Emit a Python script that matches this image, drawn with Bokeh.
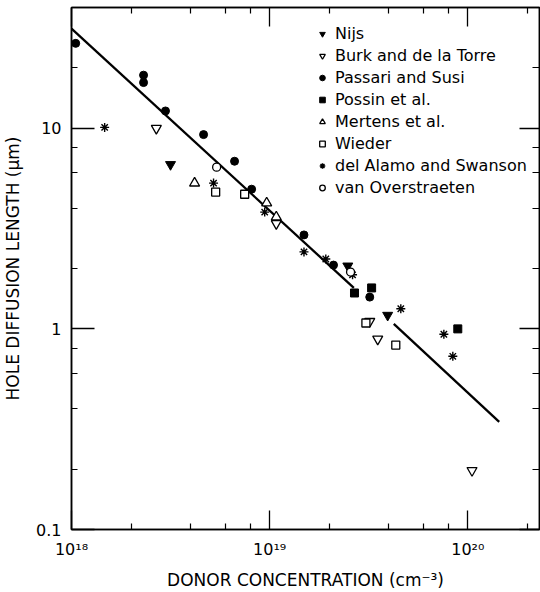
from bokeh.plotting import figure
from bokeh.models import (Range1d, FixedTicker, LogAxis, CustomJSTickFormatter,
                          Legend, LegendItem)
from bokeh.embed import file_html
from bokeh.resources import INLINE

# ---------------- data ----------------
nijs_x = [3.16e18, 2.48e19, 3.94e19]
nijs_y = [6.6, 2.06, 1.17]

burk_x = [2.68e18, 1.08e19, 3.2e19, 3.51e19, 1.05e20]
burk_y = [10.0, 3.35, 1.09, 0.89, 0.197]

passari_x = [1.05e18, 2.31e18, 2.31e18, 2.98e18, 4.64e18, 6.65e18, 8.11e18,
             1.49e19, 2.10e19, 3.20e19]
passari_y = [26.5, 18.4, 16.9, 12.2, 9.3, 6.85, 4.97, 2.94, 2.08, 1.44]

possin_x = [2.68e19, 3.27e19, 8.9e19]
possin_y = [1.51, 1.60, 1.0]

mertens_x = [4.18e18, 9.66e18, 1.08e19]
mertens_y = [5.33, 4.24, 3.61]

wieder_x = [5.34e18, 7.48e18, 3.06e19, 4.33e19]
wieder_y = [4.81, 4.69, 1.07, 0.83]

alamo_x = [1.47e18, 5.21e18, 9.44e18, 1.49e19, 1.92e19, 2.62e19, 4.59e19,
           7.57e19, 8.4e19]
alamo_y = [10.1, 5.33, 3.82, 2.42, 2.23, 1.86, 1.26, 0.94, 0.73]

overstraeten_x = [5.40e18, 2.56e19]
overstraeten_y = [6.40, 1.92]

fit_a_x = [1.0e18, 2.66e19]
fit_a_y = [31.4, 1.6]
fit_b_x = [4.23e19, 1.44e20]
fit_b_y = [1.06, 0.344]

series_names = ["Nijs", "Burk and de la Torre", "Passari and Susi", "Possin et al.",
                "Mertens et al.", "Wieder", "del Alamo and Swanson", "van Overstraeten"]

x_tick_values = [1e18, 1e19, 1e20]
x_tick_labels = ["10\u00b9\u2078", "10\u00b9\u2079", "10\u00b2\u2070"]
x_minor_values = [2e18, 4e18, 6e18, 8e18, 2e19, 4e19, 6e19, 8e19, 2e20]
y_tick_values = [0.1, 1, 10]
y_tick_labels = ["0.1", "1", "10"]
y_minor_values = [0.2, 0.4, 0.6, 0.8, 2, 4, 6, 8, 20, 40]

x_title = "DONOR CONCENTRATION (cm\u207b\u00b3)"
y_title = "HOLE DIFFUSION LENGTH (\u00b5m)"

# ---------------- figure ----------------
FONT = "DejaVu Sans"
p = figure(width=540, height=592, x_axis_type="log", y_axis_type="log",
           x_range=Range1d(1e18, 2.3e20), y_range=Range1d(0.1, 40),
           output_backend="svg", toolbar_location=None,
           min_border_left=71, min_border_right=1, min_border_top=7,
           min_border_bottom=61)
p.xgrid.visible = False
p.ygrid.visible = False
p.outline_line_color = "black"
p.outline_line_width = 1.5
p.background_fill_color = "white"
p.border_fill_color = "white"

fmt_code = """
const i = vals.findIndex(v => Math.abs(Math.log10(v) - Math.log10(tick)) < 1e-6);
return i >= 0 ? labs[i] : "";
"""
xfmt = CustomJSTickFormatter(args=dict(vals=x_tick_values, labs=x_tick_labels), code=fmt_code)
yfmt = CustomJSTickFormatter(args=dict(vals=y_tick_values, labs=y_tick_labels), code=fmt_code)
xticker = FixedTicker(ticks=x_tick_values, minor_ticks=x_minor_values)
yticker = FixedTicker(ticks=y_tick_values, minor_ticks=y_minor_values)

def style(ax, ticker, major_in, minor_in):
    ax.ticker = ticker
    ax.major_tick_in = major_in
    ax.major_tick_out = 0
    ax.minor_tick_in = minor_in
    ax.minor_tick_out = 0
    ax.major_tick_line_color = "black"
    ax.minor_tick_line_color = "black"
    ax.major_tick_line_width = 1.3
    ax.minor_tick_line_width = 1.2
    ax.axis_line_color = "black"
    ax.axis_line_width = 1.5

xa = p.xaxis[0]
style(xa, xticker, 19, 6)
xa.formatter = xfmt
xa.major_label_text_font = FONT
xa.major_label_text_font_size = "16px"
xa.major_label_text_color = "black"
xa.major_label_standoff = 10
xa.axis_label = x_title
xa.axis_label_text_font = FONT
xa.axis_label_text_font_size = "17px"
xa.axis_label_text_font_style = "normal"
xa.axis_label_text_color = "black"
xa.axis_label_standoff = 8

ya = p.yaxis[0]
style(ya, yticker, 23, 6)
ya.formatter = yfmt
ya.major_label_text_font = FONT
ya.major_label_text_font_size = "16px"
ya.major_label_text_color = "black"
ya.major_label_standoff = 10
ya.axis_label = y_title
ya.axis_label_text_font = FONT
ya.axis_label_text_font_size = "17px"
ya.axis_label_text_font_style = "normal"
ya.axis_label_text_color = "black"
ya.axis_label_standoff = 10

empty = CustomJSTickFormatter(code="return '';")
top = LogAxis(formatter=empty)
style(top, FixedTicker(ticks=x_tick_values, minor_ticks=x_minor_values), 19, 6)
top.major_label_text_font_size = "0px"
top.major_label_standoff = 0
p.add_layout(top, "above")
right = LogAxis(formatter=CustomJSTickFormatter(code="return '';"))
style(right, FixedTicker(ticks=y_tick_values, minor_ticks=y_minor_values), 20, 7)
right.major_label_text_font_size = "0px"
right.major_label_standoff = 0
p.add_layout(right, "right")

# ---------------- fit line ----------------
p.line(fit_a_x, fit_a_y, line_color="black", line_width=2.3)
p.line(fit_b_x, fit_b_y, line_color="black", line_width=2.3)

# ---------------- data points ----------------
r_nijs = p.scatter(nijs_x, nijs_y, marker="inverted_triangle", size=10,
                   fill_color="black", line_color="black")
r_burk = p.scatter(burk_x, burk_y, marker="inverted_triangle", size=10,
                   fill_color="white", line_color="black", line_width=1.3)
r_pass = p.scatter(passari_x, passari_y, marker="circle", size=8,
                   fill_color="black", line_color="black")
r_poss = p.scatter(possin_x, possin_y, marker="square", size=8,
                   fill_color="black", line_color="black")
r_mert = p.scatter(mertens_x, mertens_y, marker="triangle", size=10,
                   fill_color="white", line_color="black", line_width=1.3)
r_wied = p.scatter(wieder_x, wieder_y, marker="square", size=8,
                   fill_color="white", line_color="black", line_width=1.3)
r_alam = p.scatter(alamo_x, alamo_y, marker="asterisk", size=9,
                   line_color="black", line_width=1.4)
r_over = p.scatter(overstraeten_x, overstraeten_y, marker="circle", size=8,
                   fill_color="white", line_color="black", line_width=1.3)

renderers = [r_nijs, r_burk, r_pass, r_poss, r_mert, r_wied, r_alam, r_over]
legend = Legend(items=[LegendItem(label=n, renderers=[r]) for n, r in zip(series_names, renderers)],
                location=(244, 332), margin=0, padding=0, spacing=3,
                glyph_width=14, glyph_height=17, label_height=17, label_standoff=6,
                label_text_font=FONT, label_text_font_size="16px",
                label_text_color="black",
                border_line_color=None, background_fill_alpha=0)
p.add_layout(legend)

open("out.html", "w").write(file_html(p, INLINE))
